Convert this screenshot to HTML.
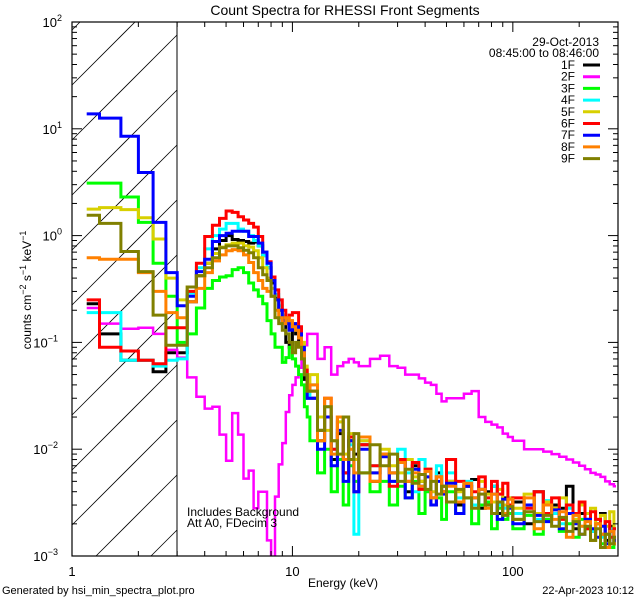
<!DOCTYPE html>
<html><head><meta charset="utf-8">
<style>
html,body{margin:0;padding:0;background:#fff;width:640px;height:600px;overflow:hidden;}
svg{display:block;font-family:"Liberation Sans",sans-serif;}
</style></head>
<body>
<svg id="chart" width="640" height="600" viewBox="0 0 640 600">
<defs><clipPath id="plotclip"><rect x="72" y="22" width="546" height="534"/></clipPath></defs>
<rect width="640" height="600" fill="#fff"/>
<text x="345" y="15" text-anchor="middle" font-size="14">Count Spectra for RHESSI Front Segments</text>
<g id="hatch"></g>
<line x1="177" y1="22" x2="177" y2="556" stroke="#000" stroke-width="1"/>
<g id="series" clip-path="url(#plotclip)"></g>
<rect x="72" y="22" width="546" height="534" fill="none" stroke="#000" stroke-width="1.2"/>
<g id="axes"></g>
<text x="343" y="587" text-anchor="middle" font-size="12">Energy (keV)</text>
<text transform="translate(31,290) rotate(-90)" text-anchor="middle" font-size="12">counts cm<tspan dy="-5" font-size="9">−2</tspan><tspan dy="5"> s</tspan><tspan dy="-5" font-size="9">−1</tspan><tspan dy="5"> keV</tspan><tspan dy="-5" font-size="9">−1</tspan></text>
<text x="2" y="594" font-size="11">Generated by hsi_min_spectra_plot.pro</text>
<text x="634" y="594" text-anchor="end" font-size="11">22-Apr-2023 10:12</text>
<text x="187" y="516" font-size="12">Includes Background</text>
<text x="187" y="527" font-size="12">Att A0, FDecim 3</text>
<text x="599" y="46" text-anchor="end" font-size="12">29-Oct-2013</text>
<text x="599" y="57" text-anchor="end" font-size="12">08:45:00 to 08:46:00</text>
<g id="legend"></g>
</svg>
<script>
const edges=[1,1.333,1.667,2,2.333,2.667,3,3.333,3.667,4,4.333,4.667,5,5.333,5.667,6,6.333,6.667,7,7.333,7.667,8,8.333,8.667,9,9.333,9.667,10,10.333,10.667,11,11.333,11.667,12,13,14,15,16,17,18,19,20,22.5,25,27.5,30,32.5,35,37.5,40,42.5,45,47.5,50,55,60,65,70,75,80,85,90,95,100,112.5,125,137.5,150,162.5,175,187.5,200,212.5,225,237.5,250,262.5,275,287.5,300];
const seriesNames=["1F","2F","3F","4F","5F","6F","7F","8F","9F"];
const seriesColors=["#000000","#ff00ff","#00ff00","#00ffff","#d8d000","#ff0000","#0000ff","#ff8000","#808000"];
const s1F=[0.23,0.12,0.068,0.068,0.053,0.08, 0.08,0.24,0.42,0.55,0.75,0.9,1.0,0.92,0.9,0.88,0.85,0.87,0.8,0.65,0.5,0.36,0.26,0.2,0.16,0.1,0.09,0.13,0.12,0.1,0.07,0.045,0.03, 0.03,0.012,0.02,0.008,0.014,0.006,0.012,0.009,0.011,0.005,0.009,0.006,0.008,0.004,0.007,0.005,0.0065,0.0035,0.006,0.004,0.005,0.003,0.0045,0.0052,0.0028,0.004,0.0045,0.0025,0.0035,0.003,0.0032,0.002,0.004,0.0022,0.003,0.0028,0.0045,0.0018,0.0025,0.0022,0.0017,0.002,0.0025,0.0014,0.0019,0.0013];
const s2F=[0.21,0.15,0.134,0.137,0.12,0.085, 0.072,0.047,0.031,0.024,0.025,0.0137,0.0078,0.0218,0.0137,0.0053,0.0063,0.0028,0.004,0.004,0.0014,0.0005,0.0036,0.0072,0.0114,0.0223,0.032,0.04,0.047,0.058,0.072,0.094,0.12, 0.12,0.07,0.09,0.05,0.06,0.065,0.07,0.065,0.06,0.07,0.075,0.06,0.058,0.05,0.05,0.046,0.042,0.04,0.033,0.028,0.03,0.03,0.033,0.035,0.02,0.018,0.017,0.016,0.014,0.013,0.012,0.01,0.01,0.0095,0.009,0.0085,0.008,0.0075,0.007,0.0065,0.006,0.0058,0.0055,0.005,0.0047,0.0045];
const s3F=[3.1,3.1,2.3,1.33,0.55,0.27, 0.1,0.12,0.21,0.32,0.38,0.41,0.42,0.48,0.5,0.45,0.36,0.31,0.27,0.23,0.16,0.12,0.09,0.09,0.065,0.072,0.09,0.07,0.06,0.05,0.04,0.025,0.02, 0.012,0.006,0.01,0.004,0.008,0.003,0.007,0.005,0.006,0.004,0.005,0.003,0.0045,0.0035,0.005,0.0025,0.004,0.003,0.0035,0.0022,0.004,0.0025,0.0035,0.002,0.003,0.0032,0.0018,0.0028,0.0022,0.0025,0.0018,0.0024,0.0016,0.0022,0.0025,0.0017,0.002,0.0015,0.0022,0.0018,0.0014,0.002,0.0013,0.0016,0.0012,0.0015];
const s4F=[0.19,0.19,0.068,0.068,0.06,0.068, 0.07,0.29,0.5,0.75,1.0,1.15,1.3,1.3,1.15,1.1,1.0,0.9,0.8,0.65,0.5,0.38,0.28,0.22,0.18,0.16,0.15,0.14,0.13,0.12,0.08,0.05,0.03, 0.04,0.015,0.025,0.01,0.018,0.008,0.011,0.0016,0.012,0.007,0.009,0.005,0.01,0.006,0.004,0.008,0.0055,0.0035,0.007,0.0045,0.006,0.0035,0.005,0.003,0.0042,0.0035,0.0045,0.003,0.0028,0.0035,0.0025,0.003,0.0022,0.0033,0.0025,0.002,0.0028,0.0022,0.0019,0.0025,0.0017,0.0022,0.0015,0.0012,0.0018,0.0014];
const s5F=[1.77,1.83,1.75,1.47,0.93,0.40, 0.25,0.33,0.42,0.55,0.68,0.78,0.82,0.85,0.85,0.8,0.78,0.72,0.62,0.5,0.4,0.32,0.25,0.2,0.17,0.15,0.16,0.15,0.14,0.12,0.1,0.06,0.04, 0.05,0.02,0.015,0.012,0.018,0.009,0.014,0.008,0.012,0.006,0.01,0.007,0.006,0.008,0.0055,0.005,0.0065,0.004,0.0055,0.0045,0.005,0.004,0.0045,0.0035,0.005,0.0038,0.0032,0.0042,0.003,0.0035,0.0028,0.0038,0.0025,0.0032,0.0028,0.0035,0.0025,0.0022,0.003,0.0025,0.0028,0.002,0.0024,0.0019,0.0026,0.0018];
const s6F=[0.25,0.09,0.083,0.068,0.063,0.137, 0.137,0.30,0.55,0.98,1.25,1.45,1.7,1.65,1.5,1.4,1.3,1.2,0.98,0.7,0.57,0.41,0.31,0.25,0.2,0.17,0.18,0.19,0.19,0.14,0.08,0.055,0.039, 0.035,0.015,0.03,0.01,0.02,0.006,0.013,0.004,0.011,0.007,0.009,0.0045,0.008,0.005,0.0075,0.0042,0.0065,0.003,0.0055,0.0045,0.008,0.005,0.0045,0.004,0.0055,0.0035,0.005,0.0038,0.0048,0.003,0.0035,0.0028,0.004,0.0025,0.0035,0.0022,0.003,0.0025,0.0032,0.0018,0.0026,0.0022,0.0016,0.0021,0.0015,0.0018];
const s7F=[13.8,12.6,8.5,3.9,1.33,0.45, 0.22,0.27,0.46,0.6,0.88,1.0,1.05,1.1,1.1,1.1,0.98,0.98,0.85,0.7,0.55,0.38,0.25,0.2,0.16,0.15,0.13,0.15,0.14,0.12,0.09,0.05,0.03, 0.03,0.01,0.02,0.007,0.015,0.005,0.012,0.004,0.01,0.006,0.0085,0.005,0.0075,0.0035,0.0065,0.0045,0.0055,0.003,0.005,0.0038,0.0048,0.0025,0.0045,0.0035,0.0042,0.003,0.0038,0.0022,0.0034,0.0028,0.002,0.003,0.0024,0.0021,0.0027,0.0018,0.0025,0.002,0.0016,0.0022,0.0018,0.0015,0.0019,0.0013,0.0017,0.0014];
const s8F=[0.62,0.6,0.6,0.45,0.3,0.19, 0.17,0.24,0.32,0.45,0.58,0.66,0.72,0.74,0.72,0.66,0.56,0.45,0.38,0.32,0.3,0.27,0.2,0.17,0.15,0.17,0.16,0.14,0.13,0.11,0.08,0.05,0.035, 0.04,0.012,0.03,0.009,0.02,0.008,0.01,0.006,0.013,0.005,0.009,0.006,0.0075,0.005,0.006,0.0045,0.0062,0.0035,0.0055,0.004,0.0045,0.0032,0.0048,0.0035,0.0042,0.0028,0.0038,0.0032,0.0025,0.0034,0.0022,0.0035,0.0018,0.003,0.0022,0.0026,0.0015,0.0024,0.0019,0.0021,0.0014,0.002,0.0016,0.0012,0.0017,0.0013];
const s9F=[1.55,1.3,0.71,0.46,0.18,0.094, 0.094,0.33,0.42,0.5,0.62,0.77,0.8,0.8,0.77,0.73,0.69,0.62,0.5,0.43,0.38,0.27,0.17,0.15,0.13,0.12,0.1,0.08,0.1,0.09,0.07,0.05,0.035, 0.035,0.015,0.025,0.012,0.009,0.02,0.008,0.014,0.006,0.011,0.007,0.009,0.005,0.0065,0.0048,0.0058,0.0042,0.005,0.0038,0.0045,0.0032,0.0042,0.0035,0.0028,0.0038,0.003,0.0025,0.0032,0.0024,0.0029,0.0022,0.0026,0.0021,0.0024,0.0019,0.0023,0.0017,0.0021,0.0016,0.0019,0.0014,0.0018,0.0012,0.0016,0.0013,0.0015];
const seriesData=[s1F,s2F,s3F,s4F,s5F,s6F,s7F,s8F,s9F];
const xTickValues=[1,10,100];
const xTickLabels=["1","10","100"];
const yTickExps=[-3,-2,-1,0,1,2];

const NS="http://www.w3.org/2000/svg";
const X0=72,X1=618,Y0=556,Y1=22;
const xmin=0,xmax=Math.log10(300),ymin=-3,ymax=2;
function xs(e){return X0+(Math.log10(e)-xmin)/(xmax-xmin)*(X1-X0);}
function ys(v){return Y0-(Math.log10(v)-ymin)/(ymax-ymin)*(Y0-Y1);}
function mk(tag,attrs,parent){const el=document.createElementNS(NS,tag);for(const k in attrs)el.setAttribute(k,attrs[k]);parent.appendChild(el);return el;}

const hatch=document.getElementById('hatch');
const HW=105;
for(let k=-12;k<14;k++){
  const y0=85+55*k;
  const ta=Math.max(0,y0-556), tb=Math.min(HW,y0-22);
  if(ta>=tb) continue;
  const ln=mk('line',{x1:72+ta,y1:y0-ta,x2:72+tb,y2:y0-tb,stroke:'#000','stroke-width':0.8},hatch);
  
  
}

const axes=document.getElementById('axes');
function tick(x1,y1,x2,y2){const t=mk('line',{x1,y1,x2,y2,stroke:'#000','stroke-width':1},axes);
  
  }
for(let d=0;d<3;d++){
  for(let m=1;m<10;m++){
    const e=Math.pow(10,d)*m; if(e>300)break;
    const x=xs(e); const L=(m===1)?10:5;
    tick(x,Y0,x,Y0-L); tick(x,Y1,x,Y1+L);
  }
}
xTickValues.forEach((v,i)=>{
  const t=mk('text',{x:xs(v),y:576,'text-anchor':'middle','font-size':13},axes);
  t.textContent=xTickLabels[i];
  
  
});
for(let d=-3;d<2;d++){
  for(let m=1;m<10;m++){
    const v=Math.pow(10,d)*m; const y=ys(v); const L=(m===1)?10:5;
    tick(X0,y,X0+L,y); tick(X1,y,X1-L,y);
  }
}
yTickExps.forEach(p=>{
  const y=ys(Math.pow(10,p));
  const t=mk('text',{x:p<0?58:62,y:y+5,'text-anchor':'end','font-size':13},axes);
  
  
  t.appendChild(document.createTextNode('10'));
  const s=mk('tspan',{dy:-6,'font-size':9},t); s.textContent=(p<0?'−':'')+Math.abs(p);
});

const sg=document.getElementById('series');
const legend=document.getElementById('legend');
seriesData.forEach((vals,si)=>{
  const n=Math.min(vals.length,edges.length-1);
  const cl=(edges[n-1]+edges[n])/2;
  let d=`M${xs((edges[0]+edges[1])/2).toFixed(1)},${ys(vals[0]).toFixed(1)}`;
  for(let i=0;i<n-1;i++){
    const xe=xs(edges[i+1]).toFixed(1);
    d+=` L${xe},${ys(vals[i]).toFixed(1)} L${xe},${ys(vals[i+1]).toFixed(1)}`;
  }
  d+=` L${xs(cl).toFixed(1)},${ys(vals[n-1]).toFixed(1)}`;
  const p=mk('path',{d,fill:'none',stroke:seriesColors[si],'stroke-width':si===1?2.5:3,'stroke-linejoin':'miter'},sg);
  
  
  const ly=65+11.7*si;
  const lt=mk('text',{x:575,y:ly+4,'text-anchor':'end','font-size':12},legend);
  lt.textContent=seriesNames[si];
  
  
  const ll=mk('line',{x1:583,y1:ly,x2:600,y2:ly,stroke:seriesColors[si],'stroke-width':3},legend);
  
  
});
</script>
</body></html>
